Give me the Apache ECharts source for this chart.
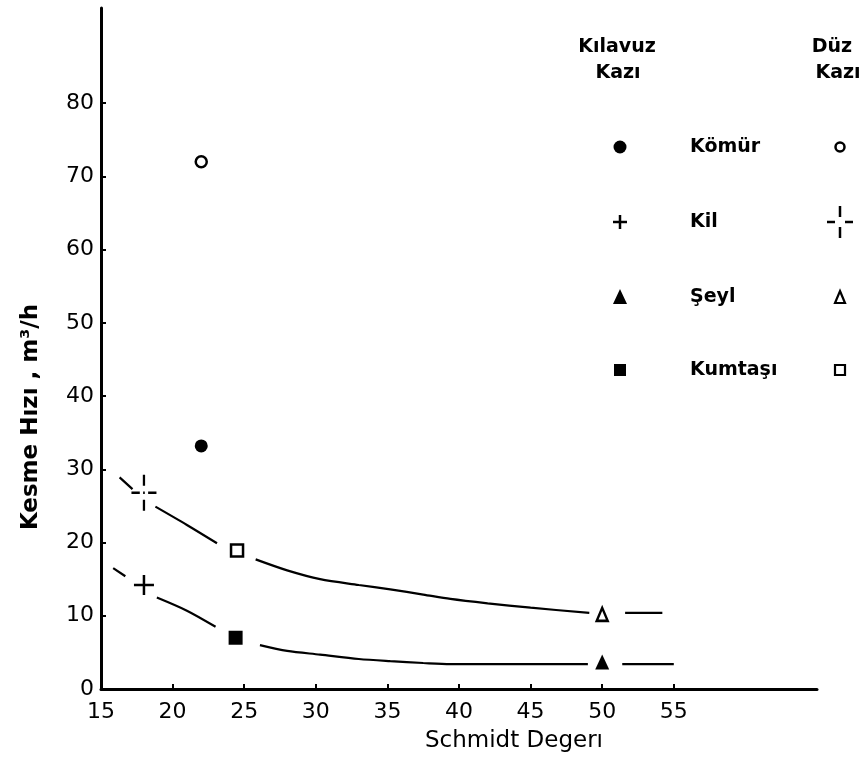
<!DOCTYPE html>
<html>
<head>
<meta charset="utf-8">
<script src="https://cdn.jsdelivr.net/npm/echarts@6/dist/echarts.min.js"></script>
<style>
  html, body { margin: 0; padding: 0; background: #fff; }
  #chart { width: 867px; height: 763px; }
</style>
</head>
<body>
<div id="chart"></div>
<script>
// tick labels
const xTicks = [15, 20, 25, 30, 35, 40, 45, 50, 55];
const yTicks = [0, 10, 20, 30, 40, 50, 60, 70, 80];

// materials
const materials = ["Kömür", "Kil", "Şeyl", "Kumtaşı"];
const kilavuzX = [22, 18, 50, 24.4];
const kilavuzY = [33.2, 14.2, 3.7, 7.0];
const duzX = [22, 18, 50, 24.5];
const duzY = [72, 26.8, 10.2, 18.9];

// fitted curves, null = gap round a marker
const duzCurveX = [16.3, 17.2, 17.5, 18.8, 21.0, 23.1, 23.5, 25.8, 28, 30.3, 33, 35.2, 37.5, 39.4, 42, 45, 49.1, 50, 51.6, 54.2];
const duzCurveY = [28.9, 27.3, null, 24.9, 22.4, 19.9, null, 17.7, 16.2, 15.0, 14.2, 13.6, 12.9, 12.3, 11.7, 11.1, 10.4, null, 10.4, 10.4];
const kilavuzCurveX = [15.85, 16.7, 17.5, 18.9, 21.0, 23.0, 24, 26.1, 28, 30.3, 33, 35.2, 37.5, 39.4, 45, 49.0, 50, 51.4, 55.0];
const kilavuzCurveY = [16.5, 15.4, null, 12.5, 10.7, 8.5, null, 6.0, 5.2, 4.7, 4.1, 3.8, 3.55, 3.4, 3.4, 3.4, null, 3.4, 3.4];

const FONT = "DejaVu Sans";
const plusPath = "path://M10,0 L10,20 M0,10 L20,10";
const dashCrossPath = "path://M0,18 L10,18 M14,18 L16,18 M20,18 L30,18 M15,0 L15,11 M15,25 L15,36";

const kilavuzSym = [
  { symbol: "circle", size: 13, style: { color: "#000", opacity: 1 } },
  { symbol: plusPath, size: [20, 20], style: { color: "none", borderColor: "#000", borderWidth: 2.5, opacity: 1 } },
  { symbol: "triangle", size: [14, 15], style: { color: "#000", opacity: 1 } },
  { symbol: "rect", size: 14, style: { color: "#000", opacity: 1 } },
];
const duzSym = [
  { symbol: "circle", size: 11, style: { color: "#fff", borderColor: "#000", borderWidth: 2.5, opacity: 1 } },
  { symbol: dashCrossPath, size: [30, 36], style: { color: "none", borderColor: "#000", borderWidth: 2.5, opacity: 1 } },
  { symbol: "triangle", size: [11, 13], style: { color: "#fff", borderColor: "#000", borderWidth: 2.5, opacity: 1 } },
  { symbol: "rect", size: 12, style: { color: "#fff", borderColor: "#000", borderWidth: 2.5, opacity: 1 } },
];

const pairs = (xs, ys) => xs.map((x, i) => [x, ys[i] === null ? "-" : ys[i]]);

const curveStyle = {
  type: "line",
  smooth: 0.3,
  connectNulls: false,
  showSymbol: false,
  lineStyle: { color: "#000", width: 2.2 },
  z: 2,
};

const series = [
  Object.assign({ name: "Düz Kazı eğrisi", data: pairs(duzCurveX, duzCurveY) }, curveStyle),
  Object.assign({ name: "Kılavuz Kazı eğrisi", data: pairs(kilavuzCurveX, kilavuzCurveY) }, curveStyle),
];

materials.forEach((m, i) => {
  series.push({
    name: m + " (Kılavuz Kazı)",
    type: "scatter",
    data: [[kilavuzX[i], kilavuzY[i]]],
    symbol: kilavuzSym[i].symbol,
    symbolSize: kilavuzSym[i].size,
    symbolKeepAspect: true,
    itemStyle: kilavuzSym[i].style,
    z: 3,
  });
  series.push({
    name: m + " (Düz Kazı)",
    type: "scatter",
    data: [[duzX[i], duzY[i]]],
    symbol: duzSym[i].symbol,
    symbolSize: duzSym[i].size,
    symbolKeepAspect: true,
    itemStyle: duzSym[i].style,
    z: 3,
  });
});

// hand-drawn legend on the right
const rowY = [147, 222, 297, 370];
const colK = 620, colD = 840, colText = 690;
const textEl = (text, x, y, align) => ({
  type: "text", x: x, y: y,
  style: { text: text, fill: "#000", font: "bold 19px '" + FONT + "'", align: align || "center", verticalAlign: "middle" },
});
const lineEl = (x1, y1, x2, y2) => ({
  type: "line", shape: { x1: x1, y1: y1, x2: x2, y2: y2 }, style: { stroke: "#000", lineWidth: 2.5 },
});
const legend = [
  textEl("Kılavuz", 617, 47),
  textEl("Kazı", 618, 73),
  textEl("Düz", 832, 47),
  textEl("Kazı", 838, 73),
];
materials.forEach((m, i) => legend.push(textEl(m, colText, rowY[i], "left")));
legend.push(
  { type: "circle", shape: { cx: colK, cy: rowY[0], r: 6.5 }, style: { fill: "#000" } },
  lineEl(colK - 7, rowY[1], colK + 7, rowY[1]),
  lineEl(colK, rowY[1] - 7, colK, rowY[1] + 7),
  { type: "polygon", shape: { points: [[colK, rowY[2] - 8], [colK + 7, rowY[2] + 7], [colK - 7, rowY[2] + 7]] }, style: { fill: "#000" } },
  { type: "rect", shape: { x: colK - 6, y: rowY[3] - 6, width: 12, height: 12 }, style: { fill: "#000" } },
  { type: "circle", shape: { cx: colD, cy: rowY[0], r: 4.5 }, style: { fill: "#fff", stroke: "#000", lineWidth: 2.5 } },
  lineEl(colD - 13, rowY[1], colD - 5, rowY[1]),
  lineEl(colD + 5, rowY[1], colD + 13, rowY[1]),
  lineEl(colD, rowY[1] - 16, colD, rowY[1] - 5),
  lineEl(colD, rowY[1] + 5, colD, rowY[1] + 16),
  { type: "polygon", shape: { points: [[colD, rowY[2] - 6], [colD + 5, rowY[2] + 6], [colD - 5, rowY[2] + 6]] }, style: { fill: "#fff", stroke: "#000", lineWidth: 2.2 } },
  { type: "rect", shape: { x: colD - 5, y: rowY[3] - 5, width: 10, height: 10 }, style: { fill: "#fff", stroke: "#000", lineWidth: 2.2 } },
  {
    type: "text", x: 31, y: 417, rotation: Math.PI / 2,
    style: { text: "Kesme Hızı , m³/h", fill: "#000", font: "bold 23px '" + FONT + "'", align: "center", verticalAlign: "middle" },
  }
);

const chart = echarts.init(document.getElementById("chart"));
chart.setOption({
  backgroundColor: "#fff",
  animation: false,
  grid: { left: 101, right: 50, top: 8, bottom: 74 },
  xAxis: {
    type: "value",
    min: 15,
    max: 65,
    name: "Schmidt Degerı",
    nameLocation: "middle",
    nameGap: 41,
    nameTextStyle: { color: "#000", fontFamily: FONT, fontSize: 23, padding: [0, 0, 0, 110] },
    axisLine: { lineStyle: { color: "#000", width: 3 } },
    axisTick: { inside: true, length: 5, lineStyle: { color: "#000", width: 2 }, customValues: xTicks.slice(1) },
    axisLabel: { color: "#000", fontFamily: FONT, fontSize: 22, margin: 12, customValues: xTicks },
    splitLine: { show: false },
  },
  yAxis: {
    type: "value",
    min: 0,
    max: 93,
    axisLine: { show: true, lineStyle: { color: "#000", width: 3 } },
    axisTick: { show: true, inside: true, length: 5, lineStyle: { color: "#000", width: 2 }, customValues: yTicks.slice(1) },
    axisLabel: { color: "#000", fontFamily: FONT, fontSize: 22, margin: 7, customValues: yTicks },
    splitLine: { show: false },
  },
  graphic: legend,
  series: series,
});
</script>
</body>
</html>
